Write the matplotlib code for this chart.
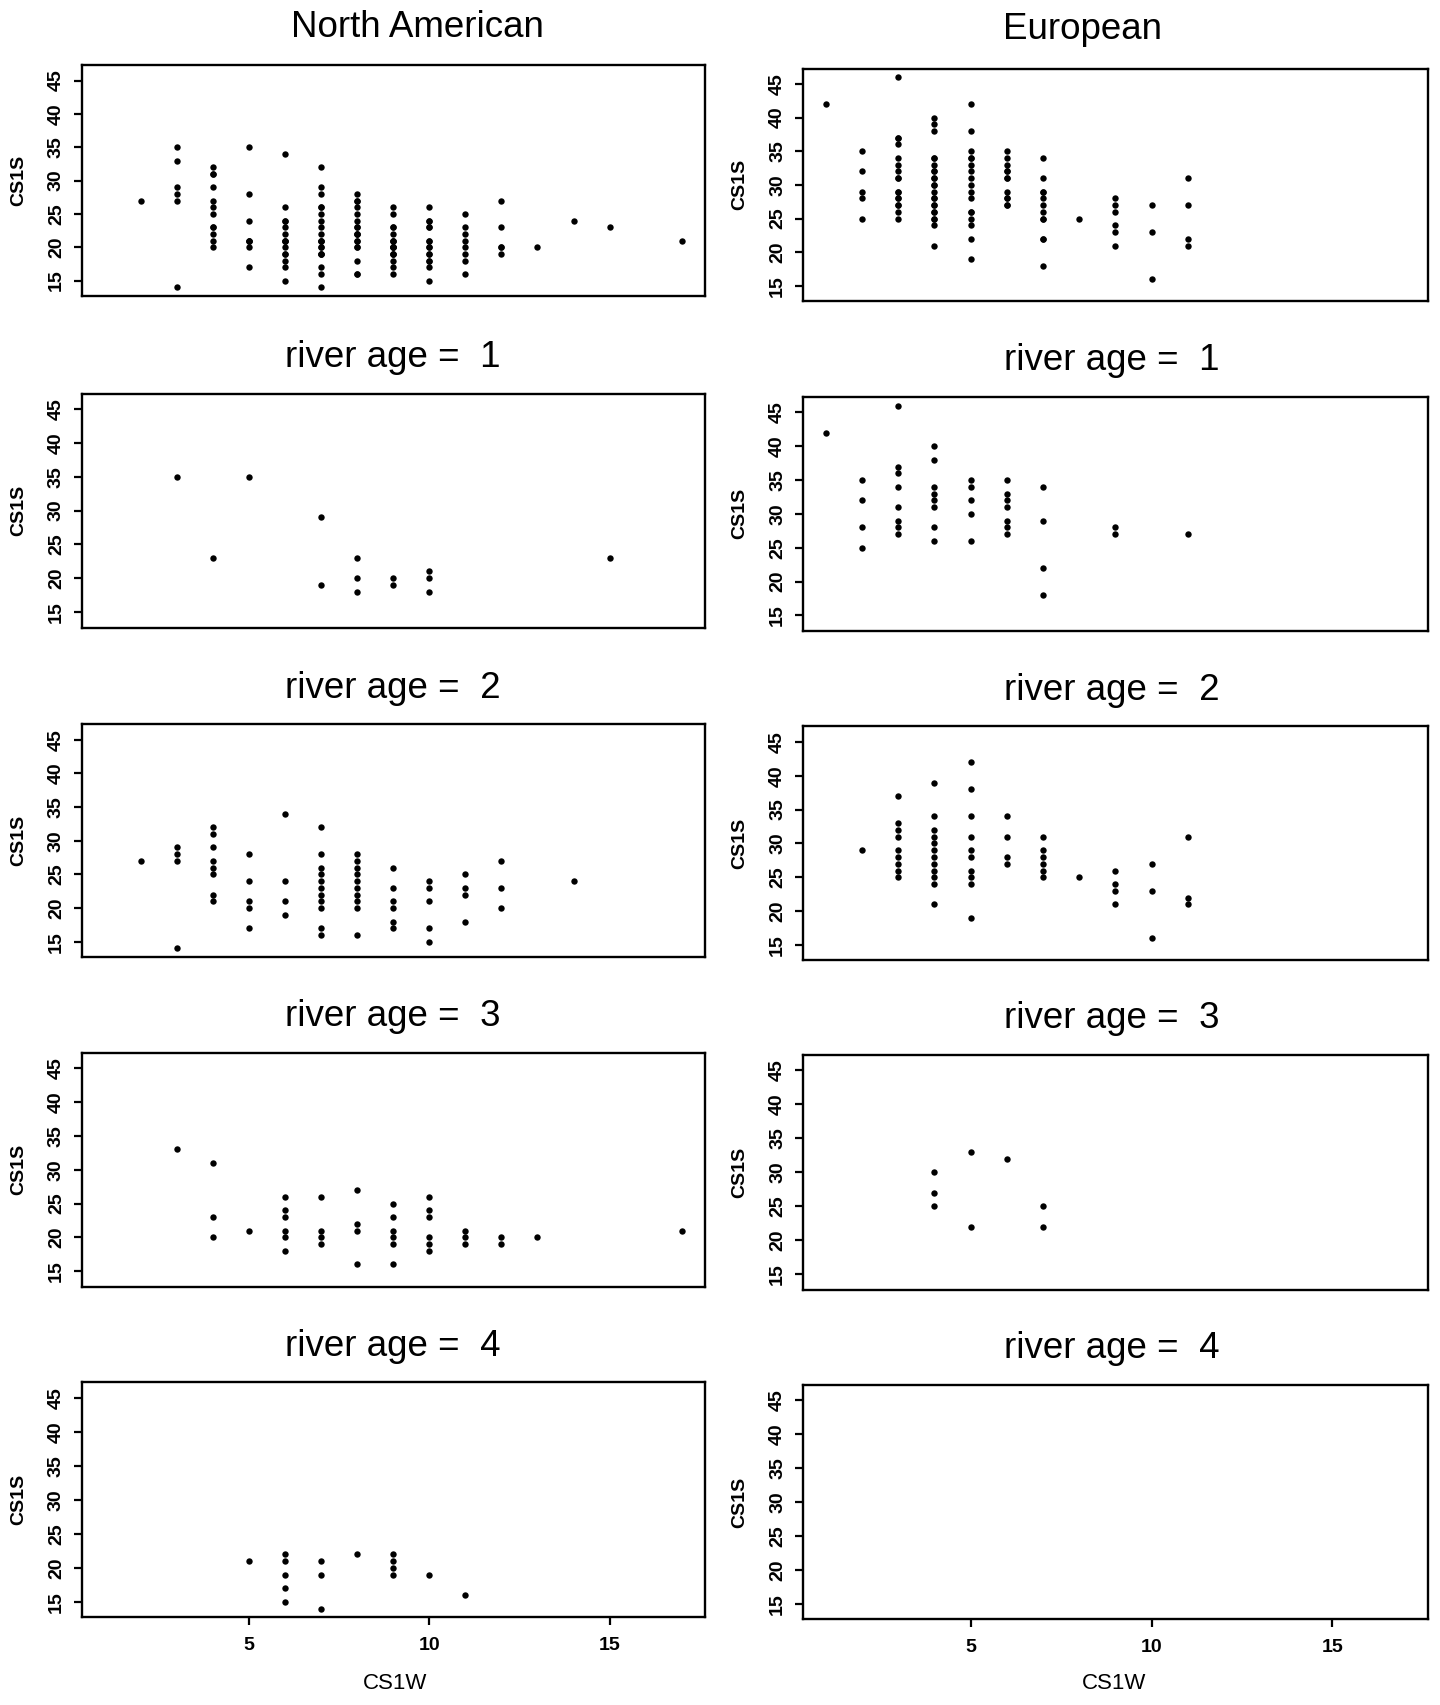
import matplotlib
matplotlib.use("Agg")
import matplotlib.pyplot as plt

plt.rcParams['font.family'] = ['Liberation Sans', 'DejaVu Sans']

# CS1S values per CS1W value, by continent and river age
na_age1 = {3: [35], 4: [23], 5: [35], 7: [29, 19], 8: [23, 20, 18],
           9: [20, 19], 10: [21, 20, 18], 15: [23]}
na_age2 = {2: [27], 3: [29, 28, 27, 14], 4: [32, 31, 29, 27, 26, 25, 22, 21],
           5: [28, 24, 21, 20, 17], 6: [34, 24, 21, 19],
           7: [32, 28, 26, 25, 24, 23, 22, 21, 20, 17, 16],
           8: [28, 27, 26, 25, 24, 23, 22, 21, 20, 16],
           9: [26, 23, 21, 20, 18, 17], 10: [24, 23, 21, 17, 15],
           11: [25, 23, 22, 18], 12: [27, 23, 20], 14: [24]}
na_age3 = {3: [33], 4: [31, 23, 20], 5: [21], 6: [26, 24, 23, 21, 20, 18],
           7: [26, 21, 20, 19], 8: [27, 22, 21, 16], 9: [25, 23, 21, 20, 19, 16],
           10: [26, 24, 23, 20, 19, 18], 11: [21, 20, 19], 12: [20, 19],
           13: [20], 17: [21]}
na_age4 = {5: [21], 6: [22, 21, 19, 17, 15], 7: [21, 19, 14], 8: [22],
           9: [22, 21, 20, 19], 10: [19], 11: [16]}

eu_age1 = {1: [42], 2: [35, 32, 28, 25], 3: [46, 37, 36, 34, 31, 29, 28, 27],
           4: [40, 38, 34, 33, 32, 31, 28, 26], 5: [35, 34, 32, 30, 26],
           6: [35, 33, 32, 31, 29, 28, 27], 7: [34, 29, 22, 18], 9: [28, 27],
           11: [27]}
eu_age2 = {2: [29], 3: [37, 33, 32, 31, 29, 28, 27, 26, 25],
           4: [39, 34, 32, 31, 30, 29, 28, 27, 26, 25, 24, 21],
           5: [42, 38, 34, 31, 29, 28, 26, 25, 24, 19], 6: [34, 31, 28, 27],
           7: [31, 29, 28, 27, 26, 25], 8: [25], 9: [26, 24, 23, 21],
           10: [27, 23, 16], 11: [31, 22, 21]}
eu_age3 = {4: [30, 27, 25], 5: [33, 22], 6: [32], 7: [25, 22]}
eu_age4 = {}

col_titles = ["North American", "European"]
row_ages = [1, 2, 3, 4]
y_ticks = [15, 20, 25, 30, 35, 40, 45]
x_ticks = [5, 10, 15]


def to_xy(*groups):
    xs, ys = [], []
    for g in groups:
        for k, vals in g.items():
            xs += [k] * len(vals)
            ys += vals
    return xs, ys


columns = [
    [na_age1, na_age2, na_age3, na_age4],
    [eu_age1, eu_age2, eu_age3, eu_age4],
]

W, H = 1440, 1705
fig = plt.figure(figsize=(W / 100, H / 100), dpi=100)


def box(x0, top, x1, bottom):
    return [x0 / W, 1 - bottom / H, (x1 - x0) / W, (bottom - top) / H]


col_x = [(81.6, 704.8), (802.7, 1428.0)]
col_rows = [
    [(65.3, 295.8), (393.7, 627.5), (724.3, 957.1), (1052.8, 1286.6), (1382.3, 1617.3)],
    [(68.5, 301.3), (397.0, 630.8), (726.5, 960.4), (1055.0, 1289.8), (1384.5, 1619.4)],
]
title_pos = [(417.6, 27.2), (1083.0, 29.4)]
age_title_x = [392.6, 1111.5]
xlab_x = [394.8, 1113.7]

for c in range(2):
    ages = columns[c]
    panels = [to_xy(*ages)] + [to_xy(a) for a in ages]
    x0, x1 = col_x[c]
    for r in range(5):
        top, bottom = col_rows[c][r]
        ax = fig.add_axes(box(x0, top, x1, bottom))
        xs, ys = panels[r]
        if xs:
            ax.plot(xs, ys, 'o', color='black', ms=4.6, mew=0)
        ax.set_xlim(0.36, 17.64)
        ax.set_ylim(12.72, 47.28)
        ax.set_yticks(y_ticks)
        ax.set_yticklabels([str(t) for t in y_ticks], fontsize=14,
                           fontweight='bold', rotation=90, va='center')
        if r == 4:
            ax.set_xticks(x_ticks)
            ax.set_xticklabels([str(t) for t in x_ticks], fontsize=14,
                               fontweight='bold')
            fig.text(xlab_x[c] / W, 1 - 1683.6 / H, "CS1W", fontsize=16,
                     ha='center', va='center')
        else:
            ax.set_xticks([])
        ax.tick_params(axis='y', length=6, width=1.6, pad=6)
        ax.tick_params(axis='x', length=6, width=1.6, pad=8)
        for s in ax.spines.values():
            s.set_linewidth(1.7)
        fig.text((x0 - 63) / W, 1 - ((top + bottom) / 2) / H, "CS1S",
                 fontsize=14, fontweight='bold', rotation=90,
                 ha='center', va='center')
        if r == 0:
            tx, ty = title_pos[c]
            fig.text(tx / W, 1 - ty / H, col_titles[c], fontsize=26.5,
                     ha='center', va='center')
        else:
            fig.text(age_title_x[c] / W, 1 - (top - 36) / H,
                     "river age =  %d" % row_ages[r - 1], fontsize=26.5,
                     ha='center', va='center')

fig.savefig("out.png", dpi=100)
